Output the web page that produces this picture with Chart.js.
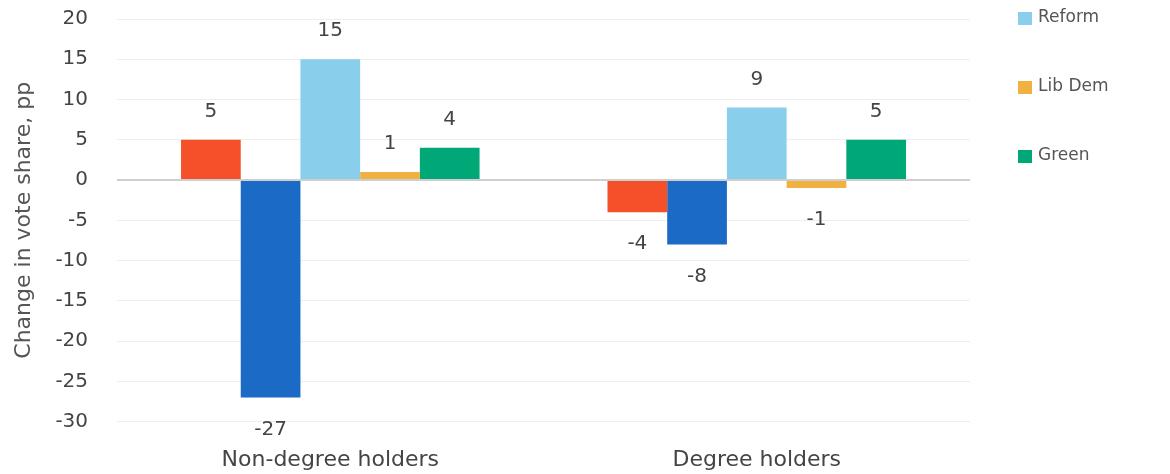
<!DOCTYPE html>
<html>
<head>
<meta charset="utf-8">
<script src="https://cdn.jsdelivr.net/npm/chart.js@4.4.1/dist/chart.umd.min.js"></script>
<style>
  html, body { margin: 0; padding: 0; background: #fff; }
  #wrap { width: 1170px; height: 474px; }
</style>
</head>
<body>
<div id="wrap"><canvas id="chart" width="1170" height="474"></canvas></div>
<script>
// Data
const groups = ['Non-degree holders', 'Degree holders'];
const parties = ['Labour', 'Conservative', 'Reform', 'Lib Dem', 'Green'];
const partyColors = ['#F4502A', '#1B6AC5', '#89CFEB', '#F0B140', '#00A878'];
const labour = [5, -4];
const conservative = [-27, -8];
const reform = [15, 9];
const libDem = [1, -1];
const green = [4, 5];
const yTicks = [-30, -25, -20, -15, -10, -5, 0, 5, 10, 15, 20];
const legendShown = ['Reform', 'Lib Dem', 'Green'];

const FONT = '"DejaVu Sans", sans-serif';
const TEXT = '#444';

const seriesValues = [labour, conservative, reform, libDem, green];

// value labels above / below each bar
const valueLabels = {
  id: 'valueLabels',
  afterDatasetsDraw(chart) {
    const ctx = chart.ctx;
    ctx.save();
    ctx.font = '20px ' + FONT;
    ctx.fillStyle = TEXT;
    ctx.textAlign = 'center';
    ctx.textBaseline = 'middle';
    chart.data.datasets.forEach((ds, di) => {
      const meta = chart.getDatasetMeta(di);
      meta.data.forEach((bar, i) => {
        const v = ds.data[i];
        const y = v >= 0 ? bar.y - 28 : bar.y + 32;
        ctx.fillText(String(v), bar.x, y);
      });
    });
    ctx.restore();
  }
};

// legend on the right, only some items visible
const sideLegend = {
  id: 'sideLegend',
  afterDraw(chart) {
    const ctx = chart.ctx;
    const x = chart.chartArea.right + 48;
    ctx.save();
    ctx.font = '17px ' + FONT;
    ctx.textBaseline = 'middle';
    ctx.textAlign = 'left';
    let y = 18;
    chart.data.datasets.forEach(ds => {
      if (!legendShown.includes(ds.label)) return;
      ctx.fillStyle = ds.backgroundColor;
      ctx.fillRect(x, y - 6, 14, 13);
      ctx.fillStyle = '#555';
      ctx.fillText(ds.label, x + 20, y);
      y += 69;
    });
    ctx.restore();
  }
};

new Chart(document.getElementById('chart'), {
  type: 'bar',
  data: {
    labels: groups,
    datasets: parties.map((p, i) => ({
      label: p,
      data: seriesValues[i],
      backgroundColor: partyColors[i],
      borderWidth: 0,
      categoryPercentage: 0.7,
      barPercentage: 1.0
    }))
  },
  options: {
    responsive: false,
    animation: false,
    layout: { padding: { top: 19, right: 200, bottom: -3, left: 0 } },
    plugins: {
      legend: { display: false },
      tooltip: { enabled: false }
    },
    scales: {
      x: {
        grid: { display: true, drawOnChartArea: false, drawTicks: true, tickLength: 21, tickColor: 'transparent' },
        border: { display: false },
        ticks: { color: TEXT, font: { family: FONT, size: 22 }, padding: 4 }
      },
      y: {
        min: -30,
        max: 20,
        afterBuildTicks: axis => { axis.ticks = yTicks.map(v => ({ value: v })); },
        grid: {
          drawTicks: true,
          tickLength: 25,
          tickColor: 'transparent',
          color: ctx => ctx.tick && ctx.tick.value === 0 ? '#cfcfcf' : '#eeeeee',
          lineWidth: ctx => ctx.tick && ctx.tick.value === 0 ? 2 : 1
        },
        border: { display: false },
        ticks: { color: TEXT, font: { family: FONT, size: 20 }, padding: 4 },
        title: {
          display: true,
          text: 'Change in vote share, pp',
          color: '#555',
          font: { family: FONT, size: 22 },
          padding: { top: 11, bottom: 14 }
        }
      }
    }
  },
  plugins: [valueLabels, sideLegend]
});
</script>
</body>
</html>
